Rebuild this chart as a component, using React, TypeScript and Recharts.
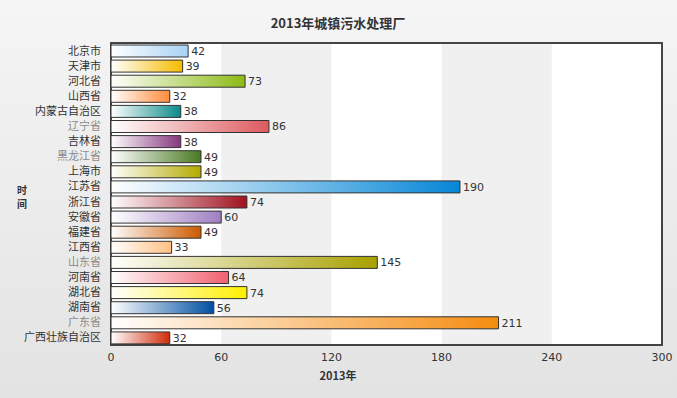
import React from "react";
import {
  Bar,
  BarChart,
  CartesianGrid,
  Cell,
  LabelList,
  ReferenceArea,
  XAxis,
  YAxis,
} from "recharts";

const provinces = [
  "北京市", "天津市", "河北省", "山西省", "内蒙古自治区", "辽宁省", "吉林省",
  "黑龙江省", "上海市", "江苏省", "浙江省", "安徽省", "福建省", "江西省",
  "山东省", "河南省", "湖北省", "湖南省", "广东省", "广西壮族自治区",
];
const plants = [42, 39, 73, 32, 38, 86, 38, 49, 49, 190, 74, 60, 49, 33, 145, 64, 74, 56, 211, 32];
const barColors = [
  "#a8d2f4", "#f5bc00", "#8cba14", "#ff8c3c", "#0a8a8a", "#dc5a5e", "#86367e",
  "#4a7a24", "#b4aa00", "#0686d6", "#a0101e", "#a07ec2", "#cc5a00", "#ffc082",
  "#a8a000", "#f0606e", "#fff000", "#0050a2", "#f58c10", "#d02c0c",
];
const fadedLabels = ["辽宁省", "黑龙江省", "山东省", "广东省"];
const xTicks = [0, 60, 120, 180, 240, 300];

const data = provinces.map((name, i) => ({ name, value: plants[i] }));

const numFont = "'DejaVu Sans', Verdana, sans-serif";
const cjkFont = "'Noto Sans CJK SC', sans-serif";

function ProvinceTick({ x, y, payload }: any) {
  const faded = fadedLabels.includes(payload.value);
  return (
    <text
      x={x}
      y={y}
      dy={4}
      textAnchor="end"
      fontSize={11}
      fontFamily={cjkFont}
      fill={faded ? "#8a8a8a" : "#333"}
    >
      {payload.value}
    </text>
  );
}

export default function App() {
  return (
    <div
      style={{
        position: "absolute",
        left: 0,
        top: 0,
        width: 677,
        height: 398,
        background: "linear-gradient(#f5f5f5, #e3e3e3)",
      }}
    >
      <svg width={677} height={398} style={{ position: "absolute", left: 0, top: 0 }}>
        <text x={338} y={28} textAnchor="middle" fontSize={13} fontWeight="bold" fontFamily={cjkFont} fill="#333">
          2013年城镇污水处理厂
        </text>
        <text x={338} y={380} textAnchor="middle" fontSize={11} fontWeight="bold" fontFamily={cjkFont} fill="#333">
          2013年
        </text>
        <text x={22} y={194} textAnchor="middle" fontSize={10} fontWeight="bold" fontFamily={cjkFont} fill="#333">
          时
        </text>
        <text x={22} y={208} textAnchor="middle" fontSize={10} fontWeight="bold" fontFamily={cjkFont} fill="#333">
          间
        </text>
      </svg>
      <BarChart
        width={677}
        height={398}
        data={data}
        layout="vertical"
        margin={{ top: 43, right: 15, bottom: 0, left: 0 }}
        barSize={12}
        style={{ position: "absolute", left: 0, top: 0 }}
      >
        <defs>
          {barColors.map((c, i) => (
            <linearGradient key={i} id={`g${i}`} x1="0" y1="0" x2="1" y2="0">
              <stop offset="0%" stopColor="#ffffff" />
              <stop offset="100%" stopColor={c} />
            </linearGradient>
          ))}
        </defs>
        <ReferenceArea x1={0} x2={300} fill="#ffffff" fillOpacity={1} stroke="none" />
        <ReferenceArea x1={60} x2={120} fill="#f0f0f0" fillOpacity={1} stroke="none" />
        <ReferenceArea x1={180} x2={240} fill="#f0f0f0" fillOpacity={1} stroke="none" />
        <CartesianGrid horizontal={false} stroke="#c4c4c4" />
        <XAxis
          type="number"
          domain={[0, 300]}
          ticks={xTicks}
          axisLine={false}
          tickLine={false}
          height={53}
          tick={{ fontSize: 11, fontFamily: numFont, fill: "#333" }}
          tickMargin={2}
        />
        <YAxis
          type="category"
          dataKey="name"
          width={111}
          axisLine={false}
          tickLine={false}
          interval={0}
          tick={<ProvinceTick />}
          tickMargin={4}
        />
        <Bar dataKey="value" stroke="#333" strokeWidth={1} isAnimationActive={false}>
          {data.map((d, i) => (
            <Cell key={d.name} fill={`url(#g${i})`} />
          ))}
          <LabelList
            dataKey="value"
            position="right"
            offset={3}
            style={{ fontSize: 11, fontFamily: numFont, fill: "#333" }}
          />
        </Bar>
        <ReferenceArea x1={0} x2={300} fill="none" stroke="#444" strokeWidth={2} />
      </BarChart>
    </div>
  );
}
